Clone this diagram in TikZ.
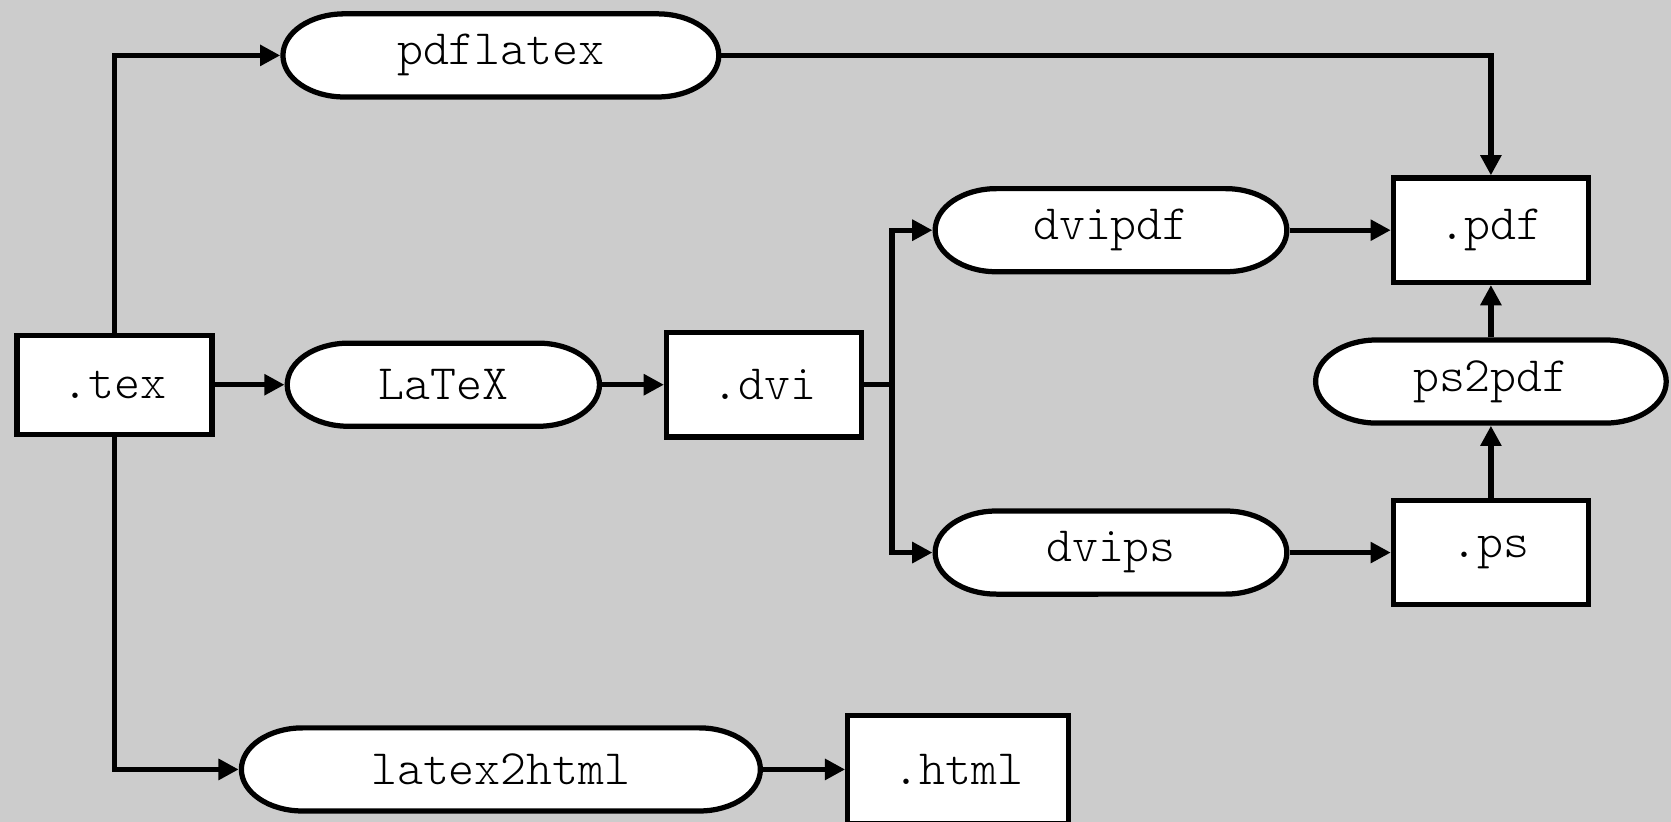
\documentclass[tikz,border=0pt]{standalone}
\usepackage{tikz}
\usetikzlibrary{arrows.meta}
\usetikzlibrary{positioning,calc}
\definecolor{bggray}{HTML}{CCCCCC}

\begin{document}
\begin{tikzpicture}[node distance=2cm, font=\ttfamily\fontseries{l}\fontsize{13.2}{16}\selectfont]
	%background
	\fill [bggray] (0,0) rectangle (15.68,-7.71);
	\useasboundingbox (0,0) rectangle (15.68,-7.71);
	%defines
	\tikzstyle{fileBox} = [rectangle, minimum width=1.83cm, minimum height=0.98cm, text centered, draw=black, fill=white, line width=1.4pt]
	\tikzstyle{toolBox} = [rectangle, minimum height=0.83cm, inner sep=0pt, outer sep=0pt, text centered,
		path picture={
			\filldraw [fill=white, draw=black, line width=1.4pt]
				([xshift=0.6cm, yshift=-0.025cm]path picture bounding box.north west)
				-- ([xshift=-0.6cm, yshift=-0.025cm]path picture bounding box.north east)
				arc [start angle=90, end angle=-90, x radius=0.575cm, y radius=0.39cm]
				-- ([xshift=0.6cm, yshift=0.025cm]path picture bounding box.south west)
				arc [start angle=270, end angle=90, x radius=0.575cm, y radius=0.39cm] -- cycle;
		}]
	\tikzstyle{line} = [line width=1.4pt]
	\tikzstyle{arrow} = [line width=1.4pt, -{Triangle[length=0.19cm, width=0.19cm]}]
	%chart
	\node (tex) [fileBox, minimum height=0.93cm] at (1.075,-3.61) {.tex};
	\node (latex) [toolBox, minimum width=2.98cm, right of=tex, node distance=3.085cm] {LaTeX};
	\node (dvi) [fileBox, right of=latex, node distance=3.01cm] {.dvi};
	\node (pdflatex) [toolBox, minimum width=4.14cm, above of=latex, node distance=3.09cm, xshift=0.54cm] {pdflatex};
	\node (dvipdf) [toolBox, minimum width=3.35cm, right of=dvi, node distance=3.255cm, yshift=1.45cm] {dvipdf};
	\node (dvips) [toolBox, minimum width=3.35cm, right of=dvi, node distance=3.255cm, yshift=-1.575cm] {dvips};
	\node (pdf) [fileBox, right of=dvipdf, node distance=3.565cm] {.pdf};
	\node (ps) [fileBox, right of=dvips, node distance=3.565cm] {.ps};
	\node (ps2pdf) [toolBox, minimum width=3.34cm, below of=pdf, node distance=1.42cm] {ps2pdf};
	\node (latex2html) [toolBox, minimum width=4.92cm, below of=latex, node distance=3.61cm, xshift=0.54cm] {latex2html};
	\node (html) [fileBox, minimum width=2.07cm, minimum height=1.01cm, right of=latex2html, node distance=4.29cm] {.html};
	\coordinate (split) at ($(dvi.east)+(0.26,0)$);
	\draw [arrow] (tex.north) |- (pdflatex.west);
	\draw [arrow] (pdflatex.east) -| (pdf.north);
	\draw [arrow] (tex) -- (latex);
	\draw [arrow] (latex) -- (dvi);
	\draw [line] (dvi.east) -- (split);
	\draw [arrow] (split) |- (dvipdf.west);
	\draw [arrow] (split) |- (dvips.west);
	\draw [arrow] (dvipdf) -- (pdf);
	\draw [arrow] (dvips) -- (ps);
	\draw [arrow] (ps) -- (ps2pdf);
	\draw [arrow] (ps2pdf) -- (pdf);
	\draw [arrow] (tex.south) |- (latex2html.west);
	\draw [arrow] (latex2html) -- (html);
\end{tikzpicture}
\end{document}
